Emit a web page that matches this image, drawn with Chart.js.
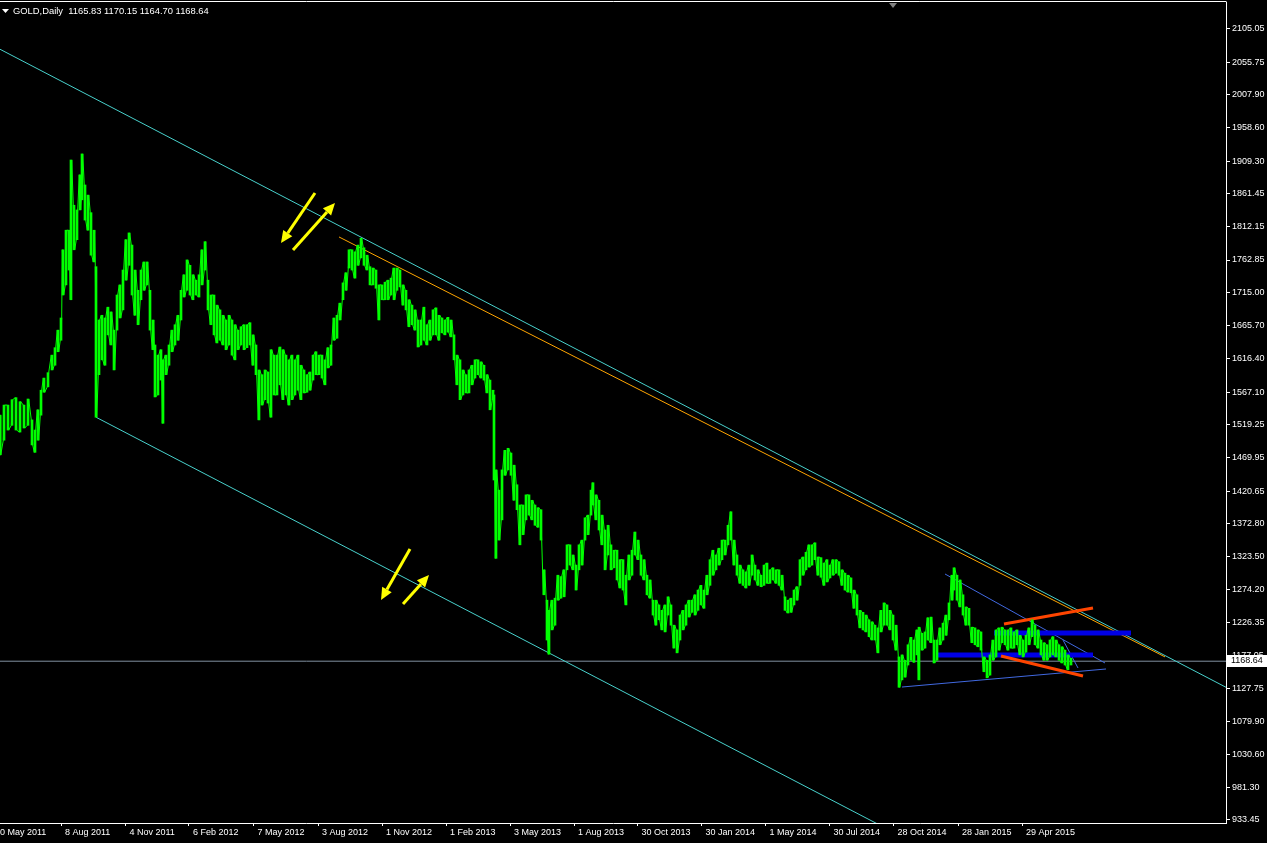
<!DOCTYPE html>
<html><head><meta charset="utf-8">
<script src="https://cdn.jsdelivr.net/npm/chart.js@4.4.1/dist/chart.umd.min.js"></script>
<style>html,body{margin:0;padding:0;background:#000;overflow:hidden}canvas{display:block}</style>
</head><body>
<canvas id="c" width="1267" height="843"></canvas>
<script>
// ---- header ----
const symbolName = 'GOLD,Daily';
const lastBarOHLC = [1165.83, 1170.15, 1164.70, 1168.64];
const bidPrice = 1168.64;

// ---- axis ticks ----
const dateTickBars = [-4, 61, 125.5, 189, 253.5, 318, 382, 446, 510, 574, 637.5, 701.5, 765.5, 829.5, 893.5, 958, 1022];
const dateTickLabels = ['0 May 2011','8 Aug 2011','4 Nov 2011','6 Feb 2012','7 May 2012','3 Aug 2012','1 Nov 2012','1 Feb 2013','3 May 2013','1 Aug 2013','30 Oct 2013','30 Jan 2014','1 May 2014','30 Jul 2014','28 Oct 2014','28 Jan 2015','29 Apr 2015'];
const priceTickValues = [2105.05,2055.75,2007.90,1958.60,1909.30,1861.45,1812.15,1762.85,1715.00,1665.70,1616.40,1567.10,1519.25,1469.95,1420.65,1372.80,1323.50,1274.20,1226.35,1177.05,1127.75,1079.90,1030.60,981.30,933.45];

// ---- price series (bar index, high, low) ----
const bars = [
0,4,8,12,16,20,24,28,32,35,38,41,44,48,52,55,58,61,63,66,69,71,74,77,80,82,85,88,91,94,96,
99,102,105,108,111,114,117,120,123,126,129,132,135,138,141,144,147,150,153,155,158,161,163,166,169,172,175,178,181,184,187,190,193,196,199,202,205,208,211,214,217,220,223,226,229,232,235,238,241,244,247,250,253,256,259,262,265,268,
271,274,277,280,283,286,289,292,295,298,301,304,307,310,313,316,319,322,325,328,331,334,337,340,343,346,349,352,355,358,361,364,367,370,373,376,379,382,385,388,391,394,397,400,403,406,409,412,415,418,421,424,427,430,433,436,439,442,445,448,451,454,457,460,463,466,469,472,475,478,481,484,487,490,493,494,496,499,502,505,508,511,514,517,520,523,526,529,532,535,538,
541,544,547,549,552,555,558,561,564,567,570,573,576,579,582,585,588,591,593,596,599,602,605,608,611,614,617,620,623,626,629,632,635,638,641,644,647,650,653,656,659,662,665,668,671,674,677,680,683,686,689,692,695,698,701,704,707,710,713,716,719,722,725,728,731,734,737,740,743,746,749,752,755,758,761,764,767,770,773,776,779,782,785,788,791,794,797,800,803,806,
809,812,815,818,821,824,827,830,833,836,839,842,845,848,851,854,857,860,863,866,869,872,875,878,881,884,887,890,893,896,899,902,905,908,911,914,917,919,922,925,928,931,934,937,940,943,946,949,952,954,957,960,963,966,969,972,975,978,981,984,987,990,993,996,999,1002,1005,1008,1011,1014,1017,1020,1023,1026,1029,1032,1035,1038,1041,1044,1047,1050,1053,1056,1059,1062,1065,1068,1071
];
const highs = [
1533,1548,1548,1556,1559,1553,1548,1557,1526,1511,1541,1570,1588,1596,1622,1633,1659,1677,1778,1807,1807,1911,1844,1837,1889,1920,1874,1859,1833,1807,1753,
1674,1681,1677,1693,1686,1659,1711,1726,1748,1793,1803,1785,1748,1718,1748,1760,1760,1718,1674,1637,1622,1630,1615,1622,1637,1659,1667,1681,1718,1741,1763,1755,1741,1733,1741,1778,1790,1733,1711,1711,1696,1689,1681,1674,1681,1674,1667,1659,1664,1667,1667,1670,1652,1637,1600,1593,1600,1597,
1630,1622,1622,1634,1630,1622,1615,1622,1615,1622,1607,1600,1593,1597,1622,1627,1622,1622,1615,1633,1637,1677,1681,1699,1729,1744,1778,1778,1775,1785,1795,1781,1770,1753,1751,1748,1726,1726,1730,1733,1736,1751,1751,1748,1726,1718,1704,1696,1689,1674,1674,1693,1667,1674,1689,1692,1681,1677,1674,1678,1674,1652,1622,1615,1600,1593,1600,1607,1615,1615,1612,1607,1593,1585,1570,1563,1452,1422,1452,1481,1484,1477,1459,1430,1400,1400,1415,1415,1407,1400,1396,
1393,1304,1259,1244,1259,1262,1296,1294,1304,1341,1341,1326,1311,1341,1348,1381,1385,1422,1433,1415,1407,1385,1363,1370,1341,1333,1333,1319,1319,1296,1326,1333,1360,1348,1326,1319,1296,1289,1259,1259,1252,1244,1252,1264,1252,1222,1215,1237,1244,1252,1259,1259,1267,1274,1281,1274,1296,1319,1333,1326,1336,1348,1348,1370,1390,1348,1326,1311,1304,1301,1311,1326,1311,1304,1296,1311,1314,1304,1307,1304,1304,1296,1264,1259,1262,1274,1279,1319,1323,1330,
1341,1341,1344,1323,1322,1314,1319,1311,1319,1319,1316,1304,1299,1296,1292,1274,1267,1244,1241,1237,1230,1227,1222,1218,1244,1255,1252,1244,1237,1222,1175,1178,1170,1193,1204,1200,1215,1219,1210,1212,1233,1234,1200,1200,1218,1225,1237,1255,1296,1307,1296,1289,1267,1249,1247,1219,1218,1215,1212,1175,1170,1178,1200,1215,1218,1219,1215,1215,1218,1212,1215,1207,1200,1207,1218,1230,1222,1215,1200,1196,1193,1200,1205,1200,1193,1190,1185,1178,1173
];
const lows = [
1474,1496,1511,1518,1511,1508,1514,1518,1489,1478,1496,1533,1567,1575,1600,1607,1627,1644,1711,1726,1748,1704,1778,1793,1837,1852,1822,1807,1770,1760,1530,
1593,1615,1607,1652,1637,1600,1659,1677,1689,1733,1755,1711,1681,1667,1704,1718,1726,1659,1630,1560,1563,1585,1521,1593,1607,1627,1637,1644,1674,1708,1718,1711,1704,1711,1708,1726,1748,1689,1667,1652,1640,1644,1637,1630,1637,1622,1615,1630,1637,1630,1633,1637,1607,1593,1526,1548,1556,1551,
1530,1563,1563,1578,1556,1563,1548,1556,1563,1570,1556,1566,1567,1570,1585,1593,1593,1588,1578,1603,1607,1644,1647,1674,1704,1718,1751,1748,1736,1755,1766,1755,1748,1726,1726,1721,1674,1704,1704,1704,1711,1704,1718,1723,1696,1689,1664,1667,1659,1634,1637,1644,1637,1644,1652,1652,1644,1655,1652,1656,1649,1615,1578,1556,1563,1566,1566,1578,1588,1593,1588,1585,1566,1541,1556,1437,1321,1348,1378,1444,1452,1444,1407,1393,1341,1356,1378,1385,1378,1370,1367,
1348,1267,1200,1179,1215,1222,1259,1262,1264,1304,1311,1304,1274,1304,1311,1348,1356,1385,1400,1378,1363,1341,1304,1326,1304,1307,1289,1277,1274,1252,1289,1296,1326,1319,1296,1289,1267,1262,1237,1222,1230,1215,1212,1237,1222,1188,1181,1200,1215,1222,1234,1241,1237,1244,1252,1247,1267,1281,1296,1304,1311,1319,1326,1341,1348,1311,1296,1284,1281,1277,1281,1296,1289,1281,1279,1281,1284,1284,1289,1284,1281,1274,1244,1240,1241,1252,1259,1281,1296,1304,
1308,1311,1319,1296,1293,1281,1286,1292,1296,1299,1296,1281,1274,1271,1270,1247,1237,1218,1215,1212,1205,1200,1200,1181,1212,1222,1222,1215,1200,1185,1130,1141,1145,1163,1170,1167,1178,1141,1185,1188,1200,1196,1166,1170,1193,1200,1207,1230,1259,1274,1259,1249,1237,1222,1222,1196,1193,1190,1185,1153,1144,1148,1170,1175,1185,1196,1193,1185,1188,1188,1193,1178,1175,1182,1193,1205,1193,1188,1178,1170,1170,1175,1178,1175,1170,1166,1163,1156,1163
];

// ---- drawn objects (bar index / price anchors) ----
const channelTopBars = [0, 1226],   channelTopPrices = [2075, 1130];
const channelLowBars = [96, 880],   channelLowPrices = [1530, 925.7];
const resistBars = [339, 1165],     resistPrices = [1797, 1175];
const blueFallBars = [945, 1105],   blueFallPrices = [1297.8, 1166.0];
const blueRiseBars = [902, 1106],   blueRisePrices = [1130.4, 1157.1];
const blueShortBars = [1063, 1078], blueShortPrices = [1200.0, 1158.6];
const zoneTopBars = [994, 1131],    zoneTopPrices = [1210.4, 1210.4];
const zoneLowBars = [938, 1093],    zoneLowPrices = [1177.8, 1177.8];
const wedgeTopBars = [1004, 1093],  wedgeTopPrices = [1223.7, 1247.4];
const wedgeLowBars = [1001, 1083],  wedgeLowPrices = [1176.3, 1146.7];
const arrowFromBars = [315, 293, 410, 403];
const arrowFromPrices = [1862.1, 1777.7, 1334.8, 1253.4];
const arrowToBars = [281, 335, 381, 429];
const arrowToPrices = [1788.1, 1847.3, 1259.3, 1296.3];
const shiftMarkerBar = 893;

const FONT = '"Liberation Sans", Arial, sans-serif';

const n = Math.min(bars.length, highs.length, lows.length);
const rangeBars = [];
const pricePoints = [];
for (let i = 0; i < n; i++) {
  rangeBars.push({x: bars[i], y: [lows[i], highs[i]]});
  pricePoints.push({x: bars[i] - 0.7, y: i % 2 ? lows[i] : highs[i]});
  pricePoints.push({x: bars[i] + 0.7, y: i % 2 ? highs[i] : lows[i]});
}
function line(bx, py, color, width, order) {
  return {type: 'line', data: bx.map((x, i) => ({x, y: py[i]})), borderColor: color, borderWidth: width,
    pointRadius: 0, tension: 0, order, borderCapStyle: 'butt'};
}

const overlay = {
  id: 'overlay',
  beforeDraw(chart) {
    const c = chart.ctx; c.save(); c.fillStyle = '#000'; c.fillRect(0, 0, chart.width, chart.height); c.restore();
  },
  afterDatasetsDraw(chart) {
    const c = chart.ctx, xs = chart.scales.x, ys = chart.scales.y, a = chart.chartArea;
    c.save();
    c.beginPath(); c.rect(a.left, a.top, a.right - a.left, a.bottom - a.top); c.clip();
    c.strokeStyle = '#ffff00'; c.fillStyle = '#ffff00'; c.lineWidth = 3; c.lineCap = 'butt';
    for (let i = 0; i < arrowFromBars.length; i++) {
      const x1 = xs.getPixelForValue(arrowFromBars[i]), y1 = ys.getPixelForValue(arrowFromPrices[i]);
      const x2 = xs.getPixelForValue(arrowToBars[i]), y2 = ys.getPixelForValue(arrowToPrices[i]);
      const ang = Math.atan2(y2 - y1, x2 - x1), hl = 12, hw = 5.5;
      const bx = x2 - hl * Math.cos(ang), by = y2 - hl * Math.sin(ang);
      c.beginPath(); c.moveTo(x1, y1); c.lineTo(bx, by); c.stroke();
      c.beginPath(); c.moveTo(x2, y2);
      c.lineTo(bx + hw * Math.sin(ang), by - hw * Math.cos(ang));
      c.lineTo(bx - hw * Math.sin(ang), by + hw * Math.cos(ang));
      c.closePath(); c.fill();
    }
    c.restore();
  },
  afterDraw(chart) {
    const c = chart.ctx, a = chart.chartArea, xs = chart.scales.x, ys = chart.scales.y;
    c.save();
    c.strokeStyle = '#fff'; c.lineWidth = 1;
    c.beginPath(); c.moveTo(0, a.top - 0.5); c.lineTo(a.right + 0.5, a.top - 0.5); c.stroke();
    c.fillStyle = '#fff';
    c.beginPath(); c.moveTo(2, 9); c.lineTo(9, 9); c.lineTo(5.5, 13); c.closePath(); c.fill();
    c.font = '9.4px ' + FONT; c.textBaseline = 'middle'; c.textAlign = 'left';
    c.fillText(symbolName + '  ' + lastBarOHLC.map(v => v.toFixed(2)).join(' '), 13, 11);
    const sx = xs.getPixelForValue(shiftMarkerBar);
    c.fillStyle = '#808080';
    c.beginPath(); c.moveTo(sx - 4, a.top + 1); c.lineTo(sx + 4, a.top + 1); c.lineTo(sx, a.top + 6); c.closePath(); c.fill();
    const by = Math.round(ys.getPixelForValue(bidPrice));
    c.fillStyle = '#fff'; c.fillRect(a.right + 1, by - 6, chart.width - a.right - 1, 12);
    c.fillStyle = '#000'; c.font = '9px ' + FONT; c.textBaseline = 'middle';
    c.fillText(bidPrice.toFixed(2), a.right + 5, by);
    c.restore();
  }
};

new Chart(document.getElementById('c'), {
  type: 'line',
  data: {datasets: [
    {type: 'bar', data: rangeBars, backgroundColor: '#00ff00', borderWidth: 0, barThickness: 2, grouped: false, order: 0},
    Object.assign(line([], [], '#00ff00', 1, 0), {data: pricePoints, borderJoinStyle: 'miter'}),
    line([0, 1226], [bidPrice, bidPrice], '#8090a0', 1, 9),
    line(channelTopBars, channelTopPrices, '#48d1cc', 1, 8),
    line(channelLowBars, channelLowPrices, '#48d1cc', 1, 8),
    line(resistBars, resistPrices, '#ffa500', 1, 7),
    line(blueFallBars, blueFallPrices, '#4169e1', 1, 6),
    line(blueRiseBars, blueRisePrices, '#4169e1', 1, 6),
    line(blueShortBars, blueShortPrices, '#4169e1', 1, 6),
    line(zoneTopBars, zoneTopPrices, '#0000e6', 5, 5),
    line(zoneLowBars, zoneLowPrices, '#0000e6', 5, 5),
    line(wedgeTopBars, wedgeTopPrices, '#ff4500', 3, 4),
    line(wedgeLowBars, wedgeLowPrices, '#ff4500', 3, 4)
  ]},
  options: {
    responsive: false, animation: false, devicePixelRatio: 1,
    layout: {padding: {top: 2, left: 0, right: 0, bottom: 0}},
    plugins: {legend: {display: false}, tooltip: {enabled: false}},
    elements: {point: {radius: 0}},
    scales: {
      x: {
        type: 'linear', min: 0, max: 1226, offset: false,
        afterBuildTicks: s => { s.ticks = dateTickBars.map(v => ({value: v})); },
        afterFit: s => { s.height = 20; s.paddingLeft = 0; s.paddingRight = 0; s.paddingTop = 0; s.paddingBottom = 0; },
        ticks: {autoSkip: false, maxRotation: 0, align: 'start', labelOffset: 4, padding: 1,
          color: '#fff', font: {family: FONT, size: 9},
          callback: (v, i) => dateTickLabels[i]},
        grid: {drawOnChartArea: false, color: '#fff', tickLength: 3, offset: false},
        border: {color: '#fff'}
      },
      y: {
        type: 'linear', position: 'right', min: 929.0, max: 2145.0,
        afterBuildTicks: s => { s.ticks = priceTickValues.map(v => ({value: v})); },
        afterFit: s => { s.width = 41; s.paddingLeft = 0; s.paddingRight = 0; s.paddingTop = 0; s.paddingBottom = 0; },
        ticks: {autoSkip: false, padding: 2, color: '#fff', font: {family: FONT, size: 9},
          callback: v => Number(v).toFixed(2)},
        grid: {drawOnChartArea: false, color: '#fff', tickLength: 4},
        border: {color: '#fff'}
      }
    }
  },
  plugins: [overlay]
});
</script></body></html>
